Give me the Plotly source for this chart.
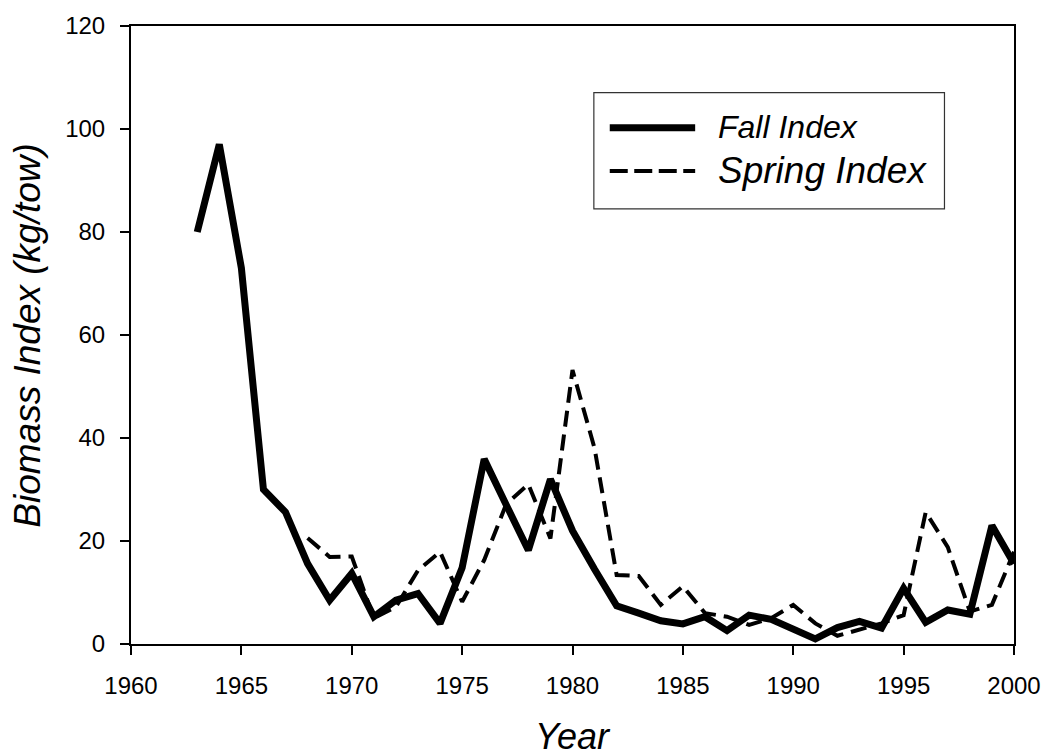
import plotly.graph_objects as go

fall_years = list(range(1963, 2001))
fall_index = [80, 97, 73, 30, 25.6, 15.6, 8.5, 13.7, 5.3, 8.5,
              9.8, 4.0, 14.8, 35.9, 27, 18.2, 32, 22, 14.5, 7.4,
              6, 4.5, 3.9, 5.3, 2.6, 5.6, 4.8, 2.8, 1.0, 3.2,
              4.4, 3.1, 10.8, 4.2, 6.6, 5.8, 23, 15.6]

spring_years = list(range(1968, 2001))
spring_index = [20.6, 16.9, 17, 5, 7.2, 14.3, 17.9, 8.2, 16.3, 27.2,
                31, 20.5, 53.2, 38, 13.4, 13.2, 7.6, 11.2, 6, 5.3,
                3.7, 5, 7.6, 4, 1.6, 2.8, 4, 5.6, 25.6, 18.8,
                6.3, 7.6, 17.9]

x_ticks = [1960, 1965, 1970, 1975, 1980, 1985, 1990, 1995, 2000]
y_ticks = [0, 20, 40, 60, 80, 100, 120]

FONT = "Arial, Liberation Sans, sans-serif"
W, H = 1053, 756
L, R, T, B = 131, 33, 22, 112
PW, PH = W - L - R, H - T - B


def px_x(p):
    return (p - L) / PW


def px_y(p):
    return (H - B - p) / PH


fig = go.Figure()
fig.add_trace(go.Scatter(x=spring_years, y=spring_index, mode="lines",
                         name="Spring Index", showlegend=False,
                         line=dict(color="black", width=4, dash="16px,8px")))
fig.add_trace(go.Scatter(x=fall_years, y=fall_index, mode="lines",
                         name="Fall Index", showlegend=False,
                         line=dict(color="black", width=7)))

axis_common = dict(showgrid=False, zeroline=False, showline=True,
                   linecolor="black", linewidth=2, mirror=True,
                   ticks="outside", ticklen=9, tickwidth=2, tickcolor="black",
                   tickfont=dict(family=FONT, size=24, color="black"))

fig.update_xaxes(range=[1960, 2000], tickvals=x_ticks,
                 ticklabelstandoff=10, **axis_common)
fig.update_yaxes(range=[0, 120], tickvals=y_ticks,
                 ticklabelstandoff=10, **axis_common)

shapes = [
    dict(type="rect", xref="paper", yref="paper",
         x0=px_x(597), x1=px_x(950), y0=px_y(206), y1=px_y(89),
         line=dict(color="#333333", width=1.2), fillcolor="white", layer="below"),
    dict(type="line", xref="paper", yref="paper",
         x0=px_x(613), x1=px_x(699), y0=px_y(124.5), y1=px_y(124.5),
         line=dict(color="black", width=7)),
    dict(type="line", xref="paper", yref="paper",
         x0=px_x(613), x1=px_x(699), y0=px_y(168), y1=px_y(168),
         line=dict(color="black", width=4, dash="18px,6.5px")),
]

annotations = [
    dict(text="<i>Fall Index</i>", xref="paper", yref="paper",
         x=px_x(720), y=px_y(124), xanchor="left", yanchor="middle",
         showarrow=False, font=dict(family=FONT, size=32, color="black")),
    dict(text="<i>Spring Index</i>", xref="paper", yref="paper",
         x=px_x(720), y=px_y(167), xanchor="left", yanchor="middle",
         showarrow=False, font=dict(family=FONT, size=37, color="black")),
    dict(text="<i>Year</i>", xref="paper", yref="paper",
         x=0.5, y=px_y(737), xanchor="center", yanchor="middle",
         showarrow=False, font=dict(family=FONT, size=36, color="black")),
    dict(text="<i>Biomass Index (kg/tow)</i>", xref="paper", yref="paper",
         x=px_x(26), y=0.5, xanchor="center", yanchor="middle", textangle=-90,
         showarrow=False, font=dict(family=FONT, size=37, color="black")),
]

fig.update_layout(width=W, height=H,
                  margin=dict(l=L, r=R, t=T, b=B),
                  paper_bgcolor="white", plot_bgcolor="white",
                  showlegend=False, shapes=shapes, annotations=annotations)

fig.write_html("out.html",
               config={"displayModeBar": False},
               post_script="document.body.style.margin='0';"
                           "document.body.style.padding='0';")
